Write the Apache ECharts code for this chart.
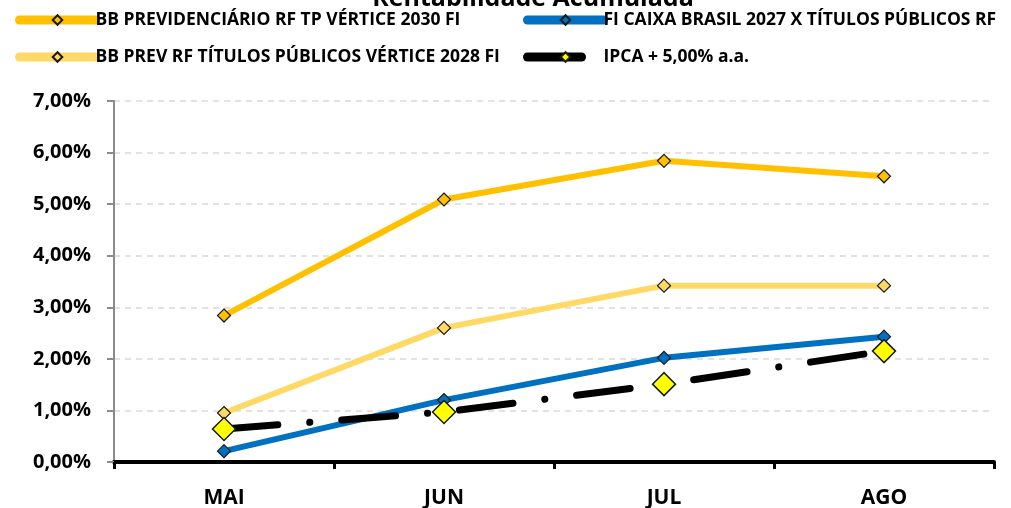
<!DOCTYPE html>
<html>
<head>
<meta charset="utf-8">
<script src="https://cdn.jsdelivr.net/npm/echarts@6/dist/echarts.min.js"></script>
<style>
html,body{margin:0;padding:0;background:#fff;}
#chart{width:1011px;height:508px;}
</style>
</head>
<body>
<div id="chart"></div>
<script>
const titleText = 'Rentabilidade Acumulada';
const categories = ['MAI', 'JUN', 'JUL', 'AGO'];
const seriesNames = [
  'BB PREVIDENCIÁRIO RF TP VÉRTICE 2030 FI',
  'FI CAIXA BRASIL 2027 X TÍTULOS PÚBLICOS RF',
  'BB PREV RF TÍTULOS PÚBLICOS VÉRTICE 2028 FI',
  'IPCA + 5,00% a.a.'
];
const vertice2030 = [2.84, 5.09, 5.84, 5.54];
const caixa2027 = [0.21, 1.20, 2.02, 2.43];
const vertice2028 = [0.95, 2.60, 3.42, 3.42];
const ipca = [0.64, 0.97, 1.51, 2.15];
const yTicks = [0, 1, 2, 3, 4, 5, 6, 7];

const FONT = '"Open Sans", sans-serif';
const chart = echarts.init(document.getElementById('chart'));

function legendAt(name, left, top) {
  return {
    data: [name], left: left, top: top,
    itemWidth: 76, itemHeight: 12, itemGap: 0,
    textStyle: {fontFamily: FONT, fontWeight: 'bold', fontSize: 17.5, color: '#000', padding: [0, 0, 0, -5]},
    lineStyle: {width: 9, cap: 'round'}
  };
}

const fmt = v => v.toFixed(2).replace('.', ',') + '%';

chart.setOption({
  animation: false,
  backgroundColor: '#fff',
  title: {
    text: titleText, left: 528, textAlign: 'center', top: -19,
    textStyle: {fontFamily: FONT, fontWeight: 'bold', fontSize: 25, color: '#000'}
  },
  legend: [
    legendAt(seriesNames[0], 10, 6),
    legendAt(seriesNames[1], 518, 6),
    legendAt(seriesNames[2], 10, 43),
    legendAt(seriesNames[3], 518, 43)
  ],
  grid: {left: 114, right: 17, top: 101, bottom: 46, containLabel: false, outerBoundsMode: 'none'},
  xAxis: {
    type: 'category', data: categories, boundaryGap: true,
    axisLine: {lineStyle: {color: '#000', width: 4}},
    axisTick: {show: true, length: 7, inside: false, lineStyle: {color: '#000', width: 3}},
    axisLabel: {fontFamily: FONT, fontWeight: 'bold', fontSize: 21, color: '#000', margin: 26},
    splitLine: {show: false}
  },
  yAxis: {
    type: 'value', min: yTicks[0], max: yTicks[yTicks.length - 1], interval: 1,
    axisLine: {show: true, lineStyle: {color: '#8c8c8c', width: 2}},
    axisTick: {show: true, length: 7, lineStyle: {color: '#8c8c8c', width: 2}},
    axisLabel: {fontFamily: FONT, fontWeight: 'bold', fontSize: 20, color: '#000', margin: 23, formatter: fmt},
    splitLine: {show: true, lineStyle: {color: '#d9d9d9', width: 1.5, type: [6, 5]}}
  },
  series: [
    {
      name: seriesNames[0], type: 'line', data: vertice2030, z: 3,
      symbol: 'diamond', symbolSize: 13,
      lineStyle: {color: '#FFC000', width: 6},
      itemStyle: {color: '#FFC000', borderColor: '#1a1a1a', borderWidth: 1.2}
    },
    {
      name: seriesNames[1], type: 'line', data: caixa2027, z: 3,
      symbol: 'diamond', symbolSize: 13,
      lineStyle: {color: '#0070C0', width: 6},
      itemStyle: {color: '#0070C0', borderColor: '#1a1a1a', borderWidth: 1.2}
    },
    {
      name: seriesNames[2], type: 'line', data: vertice2028, z: 3,
      symbol: 'diamond', symbolSize: 13,
      lineStyle: {color: '#FFD966', width: 6},
      itemStyle: {color: '#FFD966', borderColor: '#1a1a1a', borderWidth: 1.2}
    },
    {
      name: seriesNames[3], type: 'line', data: ipca, z: 4,
      symbol: 'diamond', symbolSize: 23,
      lineStyle: {color: '#000', width: 7, type: [54, 32, 0.1, 32], cap: 'round'},
      itemStyle: {color: '#FFFF00', borderColor: '#1a1a1a', borderWidth: 1.5}
    }
  ]
});
</script>
</body>
</html>
